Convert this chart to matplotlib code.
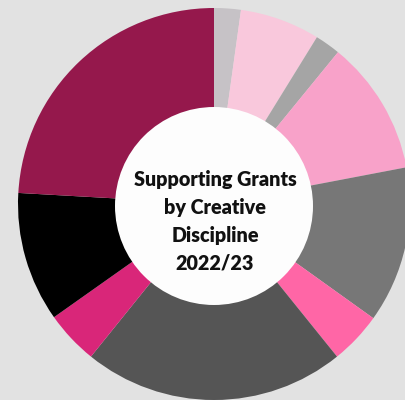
import matplotlib.pyplot as plt
from matplotlib.patches import Circle

# share of supporting grants by creative discipline, 2022/23 (percent)
disciplines = [
    "Other", "Literature", "Mixed", "Theatre", "Visual Arts",
    "Dance", "Music", "Film", "Design", "Craft",
]
shares = [2.2, 6.6, 2.1, 11.1, 12.9, 4.3, 21.6, 4.4, 10.7, 24.1]
colours = [
    "#c6c2c6", "#f9c8dc", "#a5a5a5", "#f8a2c9", "#777777",
    "#ff66a6", "#555555", "#d92679", "#000000", "#95184c",
]
title_lines = ["Supporting Grants", "by Creative", "Discipline", "2022/23"]

W, H = 406, 400
bg = "#e2e2e2"

fig = plt.figure(figsize=(W / 100, H / 100), dpi=100, facecolor=bg)
ax = fig.add_axes([0, 0, 1, 1])
ax.set_facecolor(bg)

# ring, drawn in pixel space (y measured from the bottom)
ax.pie(shares, colors=colours, startangle=90, counterclock=False,
       center=(214, H - 204), radius=196,
       wedgeprops=dict(linewidth=0))

# white hole in the middle
ax.add_patch(Circle((214, H - 206), 99, facecolor="#fdfdfd",
                    edgecolor="none", zorder=5))

for k, line in enumerate(title_lines):
    ax.text(215, H - (180 + 27.8 * k), line, ha="center", va="center",
            fontsize=14.2, fontweight="heavy", family="Lato",
            color="#111111", zorder=6)

ax.set_xlim(0, W)
ax.set_ylim(0, H)
ax.set_aspect("equal")
ax.axis("off")

fig.savefig("out.png", dpi=100, facecolor=bg)
